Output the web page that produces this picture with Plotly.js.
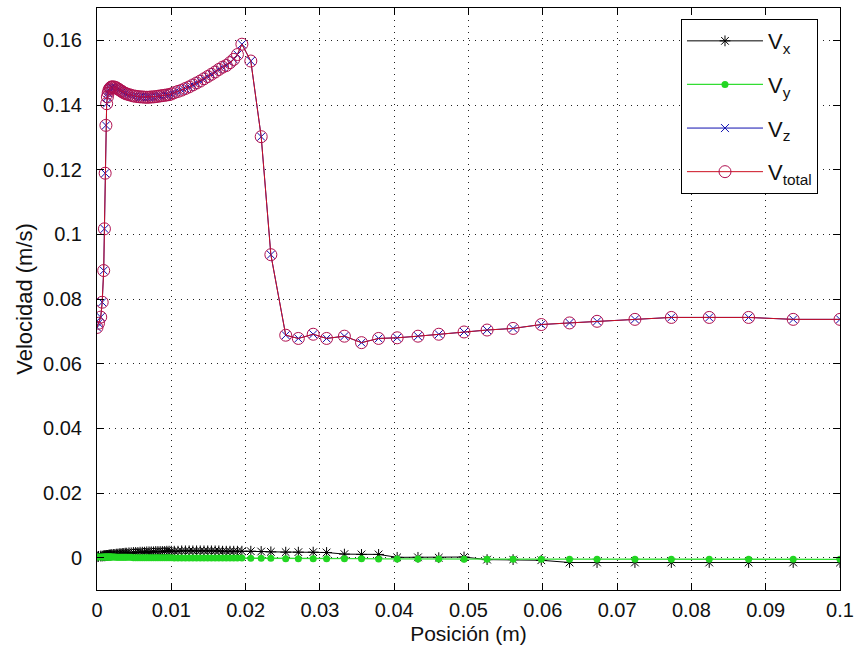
<!DOCTYPE html>
<html>
<head>
<meta charset="utf-8">
<script src="https://cdn.plot.ly/plotly-3.0.1.min.js"></script>
<style>html,body{margin:0;padding:0;background:#fff;}#chart{width:854px;height:652px;}</style>
</head>
<body>
<div id="chart"></div>
<script>
// Position (m)
const posicion = [
  0, 0.0002, 0.0005, 0.0007, 0.0009, 0.0010, 0.0011, 0.0012, 0.0013,
  0.0014, 0.0015, 0.0016, 0.0017, 0.0018, 0.0019, 0.0020, 0.0022, 0.0024, 0.0026,
  0.0028, 0.0030, 0.0032, 0.0034, 0.0036, 0.0038, 0.0040, 0.0043, 0.0046, 0.0049,
  0.0052, 0.0055, 0.0058, 0.0061, 0.0064, 0.0067, 0.0070, 0.0073, 0.0076, 0.0079,
  0.0082, 0.0085, 0.0088, 0.0091, 0.0094, 0.0097, 0.0100,
  0.0104, 0.0109, 0.0114, 0.0119, 0.0124, 0.0129, 0.0134, 0.0139, 0.0144, 0.0149,
  0.0154, 0.0159, 0.0164, 0.0169, 0.0174, 0.0179, 0.0184, 0.0189, 0.0195,
  0.0207, 0.0221, 0.0234,
  0.0254, 0.0271, 0.0291, 0.0309, 0.0333, 0.0356, 0.0379, 0.0404, 0.0432, 0.0460,
  0.0494, 0.0525, 0.0560, 0.0598, 0.0636, 0.0673, 0.0724, 0.0773, 0.0824, 0.0877,
  0.0937, 0.1000
];

const vx = [
  0.0003, 0.0004, 0.0005, 0.0005, 0.0006, 0.0006, 0.0006, 0.0007, 0.0007,
  0.0007, 0.0007, 0.0008, 0.0008, 0.0008, 0.0009, 0.0009, 0.0010, 0.0010, 0.0011,
  0.0011, 0.0012, 0.0012, 0.0013, 0.0013, 0.0014, 0.0014, 0.0015, 0.0015, 0.0016,
  0.0016, 0.0016, 0.0017, 0.0017, 0.0017, 0.0018, 0.0018, 0.0018, 0.0018, 0.0019,
  0.0019, 0.0019, 0.0019, 0.0019, 0.0020, 0.0020, 0.0020,
  0.0020, 0.0020, 0.0021, 0.0021, 0.0021, 0.0021, 0.0021, 0.0021, 0.0021, 0.0021,
  0.0021, 0.0021, 0.0021, 0.0020, 0.0020, 0.0020, 0.0020, 0.0020, 0.0020,
  0.0020, 0.0019, 0.0018,
  0.0017, 0.0017, 0.0017, 0.0016, 0.0011, 0.0010, 0.0010, 0.0001, 0.0001, 0.0000,
  0.0002, -0.0006, -0.0006, -0.0008, -0.0015, -0.0015, -0.0015, -0.0015, -0.0015, -0.0015,
  -0.0015, -0.0015
];

const vy = [
  0.0002, 0.0002, 0.0002, 0.0002, 0.0002, 0.0002, 0.0002, 0.0002, 0.0002,
  0.0002, 0.0002, 0.0002, 0.0002, 0.0002, 0.0002, 0.0002, 0.0002, 0.0002, 0.0001,
  0.0001, 0.0001, 0.0001, 0.0001, 0.0001, 0.0001, 0.0001, 0.0001, 0.0001, 0.0000,
  0.0000, 0.0000, 0.0000, 0.0000, 0.0000, 0.0000, 0.0000, 0.0000, 0.0000, 0.0000,
  0.0000, 0.0000, 0.0000, 0.0000, 0.0000, 0.0000, 0.0000,
  -0.0001, -0.0001, -0.0001, -0.0001, -0.0001, -0.0001, -0.0001, -0.0001, -0.0001, -0.0001,
  -0.0001, -0.0001, -0.0001, -0.0001, -0.0001, -0.0001, -0.0001, -0.0001, -0.0001,
  -0.0002, -0.0002, -0.0002,
  -0.0003, -0.0003, -0.0003, -0.0003, -0.0003, -0.0003, -0.0004, -0.0004, -0.0004, -0.0004,
  -0.0005, -0.0005, -0.0005, -0.0005, -0.0005, -0.0005, -0.0005, -0.0005, -0.0005, -0.0005,
  -0.0005, -0.0005
];

const vz = [
  0.0712, 0.0725, 0.0744, 0.0790, 0.0888, 0.1017, 0.1189, 0.1337, 0.1404,
  0.1425, 0.1437, 0.1445, 0.1450, 0.1453, 0.1455, 0.1456, 0.1456, 0.1455, 0.1453,
  0.1450, 0.1447, 0.1444, 0.1441, 0.1438, 0.1436, 0.1434, 0.1432, 0.1430, 0.1428,
  0.1427, 0.1426, 0.1425, 0.1425, 0.1424, 0.1424, 0.1424, 0.1425, 0.1425, 0.1426,
  0.1427, 0.1428, 0.1429, 0.1430, 0.1431, 0.1432, 0.1434,
  0.1438, 0.1442, 0.1446, 0.1451, 0.1456, 0.1462, 0.1468, 0.1474, 0.1481, 0.1488,
  0.1495, 0.1502, 0.1510, 0.1517, 0.1522, 0.1531, 0.1541, 0.1556, 0.1588,
  0.1536, 0.1302, 0.0937,
  0.0688, 0.0678, 0.0691, 0.0678, 0.0685, 0.0665, 0.0678, 0.0680, 0.0685, 0.0691,
  0.0698, 0.0704, 0.0709, 0.0721, 0.0726, 0.0731, 0.0737, 0.0743, 0.0743, 0.0743,
  0.0737, 0.0737
];

const vtotal = [
  0.0712, 0.0725, 0.0744, 0.0790, 0.0888, 0.1017, 0.1189, 0.1337, 0.1404,
  0.1425, 0.1437, 0.1445, 0.1450, 0.1453, 0.1455, 0.1456, 0.1456, 0.1455, 0.1453,
  0.1450, 0.1447, 0.1444, 0.1441, 0.1438, 0.1436, 0.1434, 0.1432, 0.1430, 0.1428,
  0.1427, 0.1426, 0.1425, 0.1425, 0.1424, 0.1424, 0.1424, 0.1425, 0.1425, 0.1426,
  0.1427, 0.1428, 0.1429, 0.1430, 0.1431, 0.1432, 0.1434,
  0.1438, 0.1442, 0.1446, 0.1451, 0.1456, 0.1462, 0.1468, 0.1474, 0.1481, 0.1488,
  0.1495, 0.1502, 0.1510, 0.1517, 0.1522, 0.1531, 0.1541, 0.1556, 0.1588,
  0.1536, 0.1302, 0.0937,
  0.0688, 0.0678, 0.0691, 0.0678, 0.0685, 0.0665, 0.0678, 0.0680, 0.0685, 0.0691,
  0.0698, 0.0704, 0.0709, 0.0721, 0.0726, 0.0731, 0.0737, 0.0743, 0.0743, 0.0743,
  0.0737, 0.0737
];

const seriesNames = ['V<sub>x</sub>', 'V<sub>y</sub>', 'V<sub>z</sub>', 'V<sub>total</sub>'];
const xTickVals = [0, 0.01, 0.02, 0.03, 0.04, 0.05, 0.06, 0.07, 0.08, 0.09, 0.1];
const xTickText = ['0', '0.01', '0.02', '0.03', '0.04', '0.05', '0.06', '0.07', '0.08', '0.09', '0.1'];
const yTickVals = [0, 0.02, 0.04, 0.06, 0.08, 0.1, 0.12, 0.14, 0.16];
const yTickText = ['0', '0.02', '0.04', '0.06', '0.08', '0.1', '0.12', '0.14', '0.16'];

const FONT = '"Liberation Sans", Arial, sans-serif';

const traces = [
  {x: posicion, y: vx, name: seriesNames[0], legendgroup: 'a', mode: 'lines+markers', type: 'scatter',
   line: {color: '#000000', width: 1},
   marker: {symbol: 'asterisk-open', size: 9, color: '#000000', line: {color: '#000000', width: 1}}},
  {x: posicion, y: vy, name: seriesNames[1], legendgroup: 'b', mode: 'lines+markers', type: 'scatter',
   line: {color: '#33dd33', width: 1.3},
   marker: {symbol: 'circle', size: 7, color: '#22d622'}},
  {x: posicion, y: vz, name: seriesNames[2], legendgroup: 'c', mode: 'lines+markers', type: 'scatter',
   line: {color: '#1010b0', width: 1},
   marker: {symbol: 'x-thin-open', size: 8, color: '#1010b0', line: {color: '#1010b0', width: 1}}},
  {x: posicion, y: vtotal, name: seriesNames[3], legendgroup: 'd', mode: 'lines+markers', type: 'scatter',
   line: {color: '#cc1020', width: 1},
   marker: {symbol: 'circle-open', size: 12, color: '#b01050', line: {color: '#b01050', width: 1}}}
];

const axisCommon = {
  showline: true, linecolor: '#000', linewidth: 1, mirror: 'ticks',
  ticks: 'inside', ticklen: 7, tickcolor: '#000', tickwidth: 1,
  showgrid: true, gridcolor: '#222', gridwidth: 1, griddash: '1px,5px',
  zeroline: false, tickfont: {family: FONT, size: 20, color: '#111'}
};

const layout = {
  width: 854, height: 652,
  paper_bgcolor: '#fff', plot_bgcolor: '#fff',
  margin: {l: 97, r: 14, t: 8, b: 62},
  font: {family: FONT, color: '#111'},
  showlegend: true,
  xaxis: Object.assign({}, axisCommon, {
    range: [0, 0.1], tickvals: xTickVals, ticktext: xTickText, ticklabelstandoff: 2,
    title: {text: 'Posición (m)', font: {family: FONT, size: 21, color: '#111'}, standoff: 6}
  }),
  yaxis: Object.assign({}, axisCommon, {
    range: [-0.01, 0.17], tickvals: yTickVals, ticktext: yTickText, ticklabelstandoff: 10,
    title: {text: 'Velocidad (m/s)', font: {family: FONT, size: 22, color: '#111'}, standoff: 4}
  }),
  legend: {
    x: 0.786, y: 0.981, xanchor: 'left', yanchor: 'top',
    bgcolor: '#fff', bordercolor: '#000', borderwidth: 1,
    font: {family: FONT, size: 22, color: '#111'},
    itemwidth: 76, tracegroupgap: 12, traceorder: 'grouped'
  }
};

Plotly.newPlot('chart', traces, layout, {displayModeBar: false, staticPlot: true});
</script>
</body>
</html>
